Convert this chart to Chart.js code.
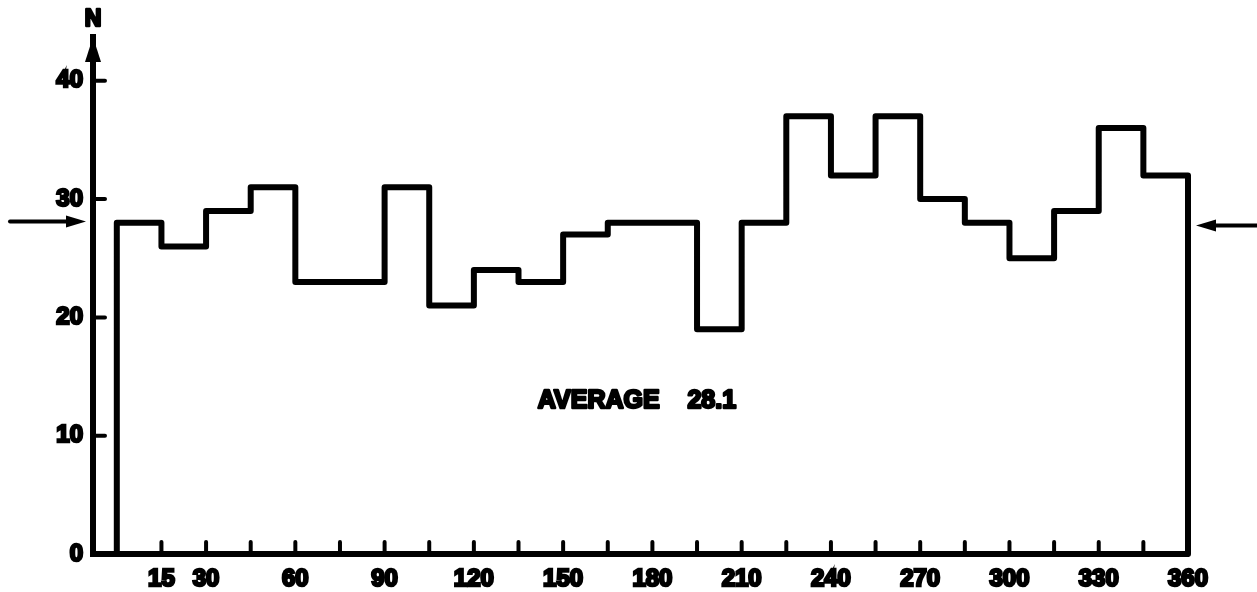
<!DOCTYPE html>
<html>
<head>
<meta charset="utf-8">
<script src="https://cdn.jsdelivr.net/npm/chart.js@4.4.1/dist/chart.umd.min.js"></script>
<style>
  html, body { margin: 0; padding: 0; background: #fff; }
  #wrap { width: 1257px; height: 592px; position: relative; }
</style>
</head>
<body>
<div id="wrap"><canvas id="chart" width="1257" height="592"></canvas></div>
<script>
// Bin starts (degrees) and counts N per 15 degree bin
const binStarts = [0, 15, 30, 45, 60, 75, 90, 105, 120, 135, 150, 165,
                   180, 195, 210, 225, 240, 255, 270, 285, 300, 315, 330, 345];
const binCounts = [28, 26, 29, 31, 23, 23, 31, 21, 24, 23, 27, 28,
                   28, 19, 28, 37, 32, 37, 30, 28, 25, 29, 36, 32];
const binEnd = 360;

const averageValue = 28.1;
const averageLabel = 'AVERAGE    28.1';

// Axis ticks
const xTickMarks = [15, 30, 45, 60, 75, 90, 105, 120, 135, 150, 165, 180,
                    195, 210, 225, 240, 255, 270, 285, 300, 315, 330, 345, 360];
const xTickLabels = [15, 30, 60, 90, 120, 150, 180, 210, 240, 270, 300, 330, 360];
const yTickValues = [0, 10, 20, 30, 40];
const yAxisTitle = 'N';

const FONT = '"Liberation Sans", Arial, sans-serif';

// Build the outline of the histogram (stepped line)
const outline = [{ x: binStarts[0], y: 0 }];
binStarts.forEach((s, i) => outline.push({ x: s, y: binCounts[i] }));
outline.push({ x: binEnd, y: 0 });

// Inward ticks, arrow on the y axis, average arrows and text
const decorations = {
    id: 'decorations',
    afterDatasetsDraw(chart) {
        const { ctx, chartArea, scales: { x, y } } = chart;
        ctx.save();
        ctx.strokeStyle = '#000';
        ctx.fillStyle = '#000';
        ctx.lineCap = 'round';
        ctx.lineJoin = 'round';
        ctx.lineWidth = 4;

        // x ticks pointing up
        xTickMarks.forEach(v => {
            if (v >= binEnd) return;
            const px = x.getPixelForValue(v);
            ctx.beginPath();
            ctx.moveTo(px, chartArea.bottom);
            ctx.lineTo(px, chartArea.bottom - 12);
            ctx.stroke();
        });

        // y ticks pointing right
        yTickValues.forEach(v => {
            if (v === 0) return;
            const py = y.getPixelForValue(v);
            ctx.beginPath();
            ctx.moveTo(chartArea.left, py);
            ctx.lineTo(chartArea.left + 12, py);
            ctx.stroke();
        });

        // arrow head on top of y axis
        const ax = chartArea.left;
        const at = chartArea.top;
        ctx.beginPath();
        ctx.moveTo(ax, at);
        ctx.lineTo(ax - 8, at + 25);
        ctx.lineTo(ax + 8, at + 25);
        ctx.closePath();
        ctx.fill();

        // N label
        ctx.font = 'bold 23px ' + FONT;
        ctx.textAlign = 'center';
        ctx.textBaseline = 'middle';
        ctx.lineWidth = 2.5;
        ctx.fillText(yAxisTitle, ax, 20);
        ctx.strokeText(yAxisTitle, ax, 20);

        // average arrows
        const ay = y.getPixelForValue(averageValue);
        ctx.lineWidth = 4;
        ctx.beginPath();
        ctx.moveTo(10, ay);
        ctx.lineTo(70, ay);
        ctx.stroke();
        ctx.beginPath();
        ctx.moveTo(86, ay);
        ctx.lineTo(66, ay - 6);
        ctx.lineTo(66, ay + 6);
        ctx.closePath();
        ctx.fill();

        const rx = chartArea.right + 8;
        ctx.beginPath();
        ctx.moveTo(rx + 16, ay + 4);
        ctx.lineTo(chart.width, ay + 4);
        ctx.stroke();
        ctx.beginPath();
        ctx.moveTo(rx, ay + 4);
        ctx.lineTo(rx + 20, ay - 2);
        ctx.lineTo(rx + 20, ay + 10);
        ctx.closePath();
        ctx.fill();

        // average text
        ctx.font = 'bold 25px ' + FONT;
        ctx.textAlign = 'left';
        ctx.lineWidth = 2.5;
        const tx = x.getPixelForValue(141.5);
        const ty = y.getPixelForValue(12.9);
        ctx.fillText(averageLabel, tx, ty);
        ctx.strokeText(averageLabel, tx, ty);
        ctx.restore();
    }
};

new Chart(document.getElementById('chart'), {
    type: 'line',
    data: {
        datasets: [{
            data: outline,
            stepped: 'before',
            borderColor: '#000',
            borderWidth: 6,
            borderJoinStyle: 'round',
            borderCapStyle: 'round',
            pointRadius: 0,
            fill: false,
            clip: false
        }]
    },
    options: {
        responsive: false,
        animation: false,
        layout: { padding: { top: 37, right: 69, bottom: 0, left: 0 } },
        plugins: {
            legend: { display: false },
            tooltip: { enabled: false }
        },
        scales: {
            x: {
                type: 'linear',
                min: -8,
                max: 360,
                afterFit: (scale) => { scale.height = 38; },
                afterBuildTicks: (scale) => {
                    scale.ticks = xTickMarks.map(v => ({ value: v }));
                },
                grid: { display: true, drawOnChartArea: false, drawTicks: false },
                border: { display: true, width: 6, color: '#000' },
                ticks: {
                    autoSkip: false,
                    maxRotation: 0,
                    padding: 11,
                    color: '#000',
                    textStrokeColor: '#000',
                    textStrokeWidth: 2.5,
                    font: { family: FONT, size: 24, weight: 'bold' },
                    callback: (v) => xTickLabels.includes(v) ? String(v) : ''
                }
            },
            y: {
                type: 'linear',
                min: 0,
                max: 43.7,
                afterFit: (scale) => { scale.width = 93; },
                afterBuildTicks: (scale) => {
                    scale.ticks = yTickValues.map(v => ({ value: v }));
                },
                grid: { display: true, drawOnChartArea: false, drawTicks: false },
                border: { display: true, width: 6, color: '#000' },
                ticks: {
                    padding: 10,
                    color: '#000',
                    textStrokeColor: '#000',
                    textStrokeWidth: 2.5,
                    font: { family: FONT, size: 24, weight: 'bold' },
                    callback: (v) => String(v)
                }
            }
        }
    },
    plugins: [decorations]
});
</script>
</body>
</html>
